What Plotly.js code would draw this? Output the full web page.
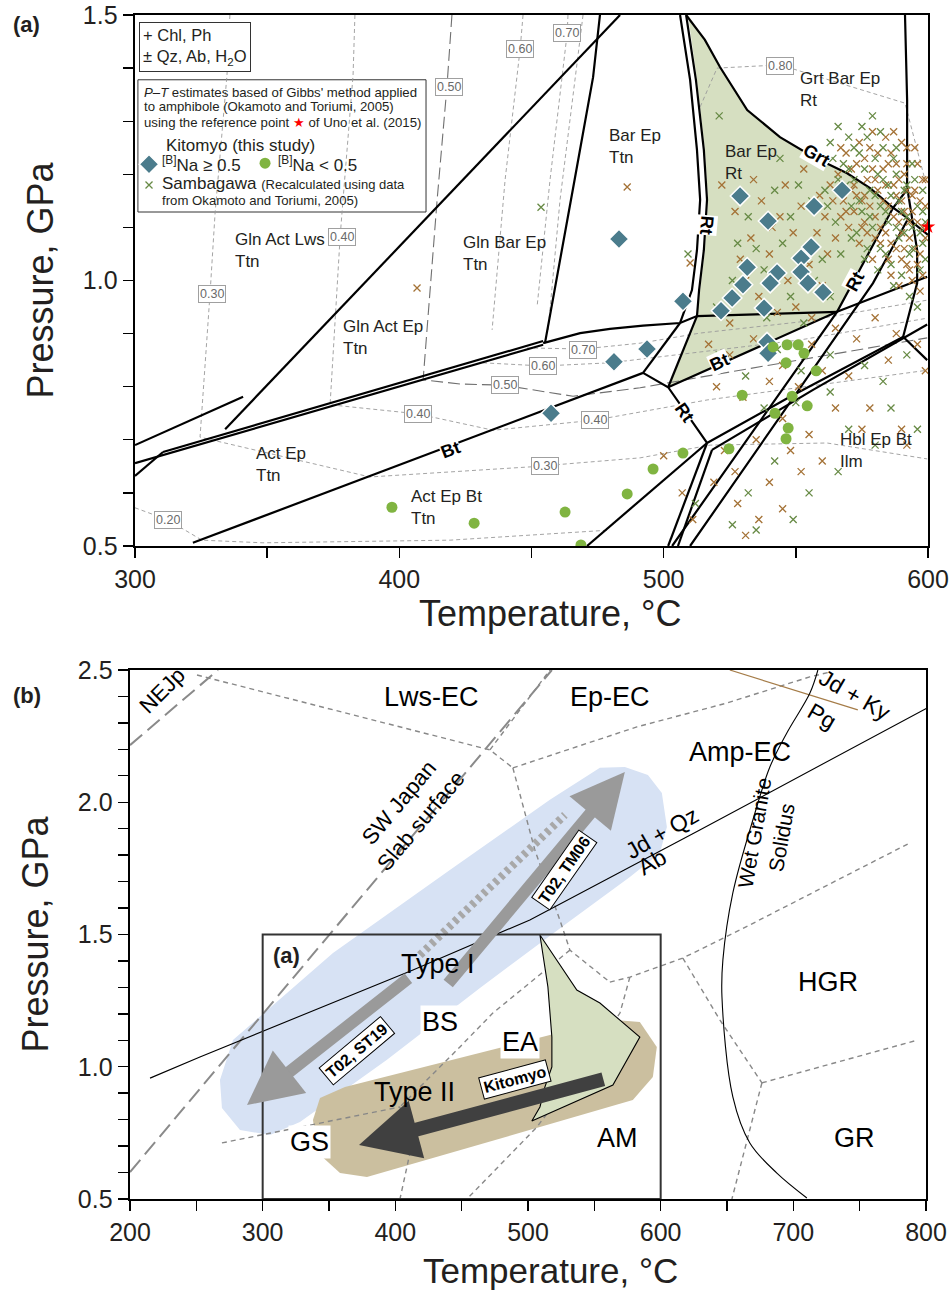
<!DOCTYPE html>
<html><head><meta charset="utf-8">
<script src="https://cdn.plot.ly/plotly-3.0.1.min.js"></script>
<style>html,body{margin:0;padding:0;background:#fff}</style>
</head><body><div id="chart" style="width:949px;height:1294px"></div>
<script>
// ================= PANEL (a) DATA (T in °C, P in GPa) =================
const aXTicks = [300,350,400,450,500,550,600];
const aXLabels = ['300','','400','','500','','600'];
const aYTicks = [0.5,0.6,0.7,0.8,0.9,1.0,1.1,1.2,1.3,1.4,1.5];
const aYLabels = ['0.5','','','','','1.0','','','','','1.5'];

// Bar Ep Rt field (green)
const fieldT = [509.2,515.6,521.3,531.6,544.0,556.5,569.4,578.1,586.8,565.6,501.7,512.6,513.8,515.6,516.8,515.6,512.6,509.2];
const fieldP = [1.5,1.453,1.402,1.321,1.270,1.233,1.202,1.174,1.137,0.941,0.799,0.933,0.982,1.057,1.152,1.246,1.378,1.5];

// reaction boundaries (thick)
const grtT = [508.5,515.6,521.3,531.6,544.0,556.5,569.4,578.1,586.8,592.1,600];
const grtP = [1.5,1.453,1.402,1.321,1.270,1.233,1.202,1.174,1.137,1.118,1.086];
const rtOuterT = [508.5,512.2,515.2,516.4,515.2,513.4,512.6];
const rtOuterP = [1.5,1.378,1.246,1.152,1.057,0.982,0.933];
const rtInnerT = [506.2,510.0,512.6,513.8,512.6,510.7,506.2];
const rtInnerP = [1.5,1.378,1.246,1.152,1.057,0.982,0.920];
const l1T = [300,340.9], l1P = [0.690,0.781];
const l2T = [334.1,483.5], l2P = [0.720,1.5];
const c1T = [300,454.4], c1P = [0.656,0.879];
const c2T = [310.6,454.4], c2P = [0.677,0.886];
const dT = [300,310.6], dP = [0.632,0.677];
const lbT = [475.9,473.3,466.5,460.8,455.1], lbP = [1.5,1.383,1.195,1.039,0.882];
const ccT = [454.4,468.4,479.7,492.2,506.2,512.6,565.6], ccP = [0.882,0.901,0.909,0.915,0.920,0.933,0.941];
const s1T = [492.2,506.2], s1P = [0.826,0.920];
const s2T = [501.7,512.6], s2P = [0.799,0.933];
const bt1T = [321.9,492.2], bt1P = [0.506,0.826];
const rtLowT = [492.2,501.7,516.4], rtLowP = [0.826,0.799,0.694];
const bt2T = [501.7,565.6,599.7], bt2P = [0.799,0.941,1.007];
const f1T = [471.0,516.4], f1P = [0.5,0.694];
const f2T = [501.7,516.4], f2P = [0.5,0.694];
const f3T = [505.4,518.3], f3P = [0.5,0.681];
const f4T = [503.2,565.6,586.8,592.1], f4P = [0.5,0.941,1.137,1.171];
const f5T = [510.0,579.2,592.1], f5P = [0.5,0.995,1.113];
const f6T = [518.3,556.5,599.7], f6P = [0.681,0.794,0.917];
const f7T = [516.4,547.8,590.6,599.7], f7P = [0.694,0.781,0.894,0.850];
const r1T = [591.3,592.1,592.1,595.9,595.9,590.6], r1P = [1.5,1.340,1.176,1.057,0.995,0.894];

// Na isopleths (thin dashed)
const iso20T = [300,312.5,325.3,348.4,419.2,479.7], iso20P = [0.572,0.549,0.511,0.506,0.511,0.530];
const iso30T = [335.9,334.8,330.3,328.4,324.6,388.9,449.5,491.1,517.6,561.8,599.7];
const iso30P = [1.5,1.387,1.127,0.976,0.705,0.630,0.649,0.666,0.690,0.694,0.664];
const iso40T = [383.2,382.5,378.3,377.6,373.8,406.7,435.5,474.0,516.4,599.7];
const iso40P = [1.5,1.387,1.127,1.082,0.766,0.749,0.718,0.737,0.775,0.831];
const iso50T = [419.9,418.0,414.3,409.0,423.0,439.2,465.7,491.1,528.9,599.7];
const iso50P = [1.5,1.364,1.152,0.813,0.805,0.803,0.782,0.798,0.831,0.892];
const iso60aT = [446.8,445.7,440.0,435.1], iso60aP = [1.5,1.436,1.189,0.907];
const iso60bT = [431.7,454.4,479.7,513.8,551.6,599.7], iso60bP = [0.845,0.839,0.845,0.865,0.888,0.929];
const iso70aT = [463.8,463.5,457.0,452.1], iso70aP = [1.5,1.466,1.189,0.950];
const iso70bT = [448.3,469.5,491.1,513.8,551.6,599.7], iso70bP = [0.873,0.871,0.882,0.901,0.922,0.963];
const isoXT = [469.5,460.8,456.3], isoXP = [1.5,1.152,0.907];
const iso80T = [513.8,520.2,544.0,591.3,598.9], iso80P = [1.327,1.400,1.406,1.334,1.189];

// Kitomyo, [B]Na >= 0.5 (diamonds)
const kitoHiT = [483.1,507.3,493.7,481.2,457.4,528.9,539.5,556.9,567.5,555.8,552.0,531.6,542.9,552.0,554.6,560.3,530.0,540.3,525.9,521.7,538.0,539.1,539.5];
const kitoHiP = [1.078,0.961,0.871,0.847,0.750,1.159,1.112,1.140,1.170,1.063,1.042,1.025,1.014,1.016,0.995,0.978,0.992,0.995,0.967,0.943,0.948,0.884,0.863];
// Kitomyo, [B]Na < 0.5 (circles)
const kitoLoT = [397.2,428.3,462.7,468.7,486.2,496.0,507.3,524.7,529.7,542.1,547.1,546.3,548.6,554.3,557.7,546.3,553.1,546.7,550.9,541.4];
const kitoLoP = [0.573,0.543,0.564,0.502,0.598,0.645,0.675,0.683,0.784,0.750,0.722,0.702,0.782,0.764,0.830,0.845,0.863,0.879,0.879,0.875];
// Sambagawa (brown crosses)
const sambBrT = [566,569,571,573,575,577,578,580,581,583,584,585,586,587,588,589,590,591,592,593,594,595,596,597,598,599,570,572,574,576,579,582,586,589,591,594,597,579,584,590,595,599,588,592,580,576,568,563,561,565,
 567,569,571,573,574,576,577,578,579,581,582,583,584,585,586,587,588,589,590,591,592,593,594,595,596,597,598,599,593,596,598,590,585,580,575,572,567,564,587,592,
 522,527,533,537,540,544,547,549,552,555,558,560,562,531,536,543,550,556,525,529,515,546,553,559,541,534,
 517,525,534,545,556,565,573,580,588,596,520,530,540,551,560,570,585,599,545,555,565,578,590,535,548,560,575,592,527,540,552,528,536,545,531,519,507,511,523,500,
 406.7,486.2,510.0];
const sambBrP = [1.20,1.24,1.17,1.22,1.15,1.19,1.25,1.12,1.17,1.21,1.09,1.14,1.24,1.18,1.06,1.11,1.15,1.20,1.03,1.08,1.13,1.17,1.22,1.05,1.10,1.14,1.10,1.13,1.07,1.11,1.04,1.07,1.01,0.99,1.06,1.00,0.98,1.28,1.27,1.26,1.25,1.19,1.22,1.17,1.19,1.16,1.15,1.18,1.12,1.08,
 1.25,1.13,1.21,1.16,1.26,1.23,1.09,1.14,1.21,1.24,1.10,1.15,1.18,1.22,1.07,1.12,1.16,1.19,1.09,1.13,1.22,1.11,1.16,1.06,1.11,1.15,1.19,1.08,1.02,1.03,1.01,1.04,1.04,1.08,1.10,1.18,1.12,1.15,1.28,1.25,
 1.18,1.13,1.08,1.15,1.05,1.12,1.00,1.09,1.14,1.03,1.09,0.99,1.05,1.00,0.97,0.94,0.95,0.93,0.92,1.04,1.10,1.18,1.21,1.16,1.10,1.19,
 0.88,0.86,0.89,0.84,0.88,0.91,0.89,0.93,0.90,0.88,0.80,0.78,0.81,0.80,0.83,0.82,0.85,0.83,0.74,0.71,0.76,0.76,0.72,0.70,0.68,0.66,0.72,0.69,0.64,0.62,0.64,0.58,0.55,0.57,0.52,0.62,0.60,0.55,0.68,0.67,
 0.986,1.176,1.033];
// Sambagawa (green crosses)
const sambGrT = [563,566,568,570,572,574,576,578,580,582,583,585,586,588,589,590,592,593,594,596,597,598,599,571,573,575,577,579,581,584,587,590,593,596,562,565,567,569,575,582,588,594,598,560,
 564,567,570,572,574,577,578,580,581,583,584,585,587,588,589,591,591,592,594,595,597,598,599,586,582,576,571,566,561,579,
 528,532,538,542,545,548,551,554,557,560,563,535,539,548,553,520,526,544,556,
 521,531,543,552,563,576,583,592,538,550,563,580,596,542,555,566,532,526,549,535,512,570,586,
 453.6,509.2,521.0];
const sambGrP = [1.26,1.29,1.22,1.27,1.19,1.24,1.21,1.17,1.23,1.14,1.19,1.11,1.16,1.20,1.08,1.13,1.18,1.05,1.10,1.14,1.02,1.07,1.11,1.14,1.09,1.13,1.06,1.10,1.02,1.05,0.99,1.01,0.97,0.95,1.14,1.11,1.05,1.18,1.29,1.28,1.25,1.22,1.17,1.22,
 1.23,1.17,1.21,1.25,1.15,1.27,1.12,1.16,1.20,1.25,1.13,1.18,1.23,1.10,1.15,1.17,1.09,1.12,1.06,1.19,1.09,1.13,1.04,1.03,1.06,1.04,1.08,1.19,1.17,1.31,
 1.07,1.12,1.02,1.17,1.07,1.12,1.18,1.06,1.00,1.04,0.97,1.06,0.93,0.97,0.92,0.95,1.00,1.23,1.15,
 0.86,0.82,0.87,0.83,0.86,0.84,0.81,0.86,0.76,0.77,0.79,0.69,0.72,0.66,0.60,0.64,0.60,0.54,0.55,0.53,0.58,0.72,0.76,
 1.138,1.050,1.310];
// reference point (Uno et al., 2015)
const refT = [600], refP = [1.101];
// legend symbols
const legDiaT = [305.3], legDiaP = [1.219];
const legCirT = [349.2], legCirP = [1.221];
const legCrsT = [305.3], legCrsP = [1.180];

// ================= PANEL (b) DATA =================
const bXTicks = [200,250,300,350,400,450,500,550,600,650,700,750,800];
const bXLabels = ['200','','300','','400','','500','','600','','700','','800'];
const bYTicks = [0.5,0.6,0.7,0.8,0.9,1.0,1.1,1.2,1.3,1.4,1.5,1.6,1.7,1.8,1.9,2.0,2.1,2.2,2.3,2.4,2.5];
const bYLabels = ['0.5','','','','','1.0','','','','','1.5','','','','','2.0','','','','','2.5'];

const typeIBandT = [277.6,353.0,441.1,516.5,554.2,573.0,590.4,600.9,604.7,599.4,576.8,529.3,463.8,393.7,328.1,305.5,282.9,269.3,267.8,277.6];
const typeIBandP = [1.101,1.430,1.744,2.009,2.130,2.133,2.103,2.035,1.906,1.808,1.717,1.543,1.298,1.026,0.791,0.742,0.761,0.844,0.950,1.101];
const typeIIBandT = [337.9,343.2,362.0,516.5,565.5,584.3,597.1,594.1,579.0,378.6,358.3,341.7,337.9];
const typeIIBandP = [0.799,0.882,0.923,1.120,1.177,1.169,1.075,0.961,0.874,0.583,0.598,0.674,0.799];
const kitoFieldT = [509.0,536.8,554.2,584.3,564.0,502.9,509.0,512.7,518.0,518.0,515.0,509.0];
const kitoFieldP = [1.498,1.290,1.241,1.112,0.931,0.795,0.848,0.923,0.999,1.112,1.302,1.498];

const nejpT = [200,266.3], nejpP = [2.216,2.5];
const slabT = [200,518], slabP = [0.602,2.5];
const jdKyT = [652.1,748.6], jdKyP = [2.5,2.349];
const jdQzT = [215.1,252.7,413.3,501.4,629.5,800.6], jdQzP = [0.957,1.037,1.366,1.555,1.895,2.356];
const solidusT = [718.5,712.5,695.1,682.3,669.5,654.4,646.9,646.2,654.4,667.2,687.6,710.2];
const solidusP = [2.5,2.413,2.262,2.133,1.933,1.657,1.404,1.264,0.886,0.712,0.598,0.504];
const fA_T = [250.5,471.3,488.6], fA_P = [2.481,2.198,2.130];
const fB_T = [488.6,582.1,649.9,712.4,727.5], fB_P = [2.130,2.285,2.375,2.474,2.492];
const fC_T = [471.3,516.5], fC_P = [2.198,2.5];
const fD_T = [488.6,505.2,524.0,531.6,561.7], fD_P = [2.130,1.819,1.555,1.441,1.320];
const fE_T = [561.7,576.8,616.7,659.7,787.8], fE_P = [1.320,1.339,1.411,1.517,1.846];
const fF_T = [616.7,644.6,676.3], fF_P = [1.411,1.177,0.939];
const fG_T = [676.3,653.7], fG_P = [0.939,0.5];
const fH_T = [676.3,793.8], fH_P = [0.939,1.101];
const fJ_T = [531.6,473.5,448.7,403.5], fJ_P = [1.441,1.203,1.075,0.848];
const fK_T = [269.3,403.5], fK_P = [0.712,0.848];
const fL_T = [403.5,411.0,403.5], fL_P = [0.848,0.674,0.5];
const fM_T = [576.8,569.3,539.1,506.7,454.0], fM_P = [1.339,1.203,0.988,0.772,0.5];
// P-T paths: [tailT, tailP, headT, headP]
const pathTypeIUp = [438.9,1.309,573.0,2.114];
const pathTypeIDown = [411.0,1.339,288.2,0.855];
const pathKitomyo = [557.9,0.954,372.6,0.704];
const pathDottedT = [418.5,527.8], pathDottedP = [1.422,1.952];
const insetBox = [300,600,0.5,1.5];

// ================= BUILD =================
const FONT = 'Liberation Sans, Arial, Helvetica, sans-serif';
const traces = [];
function line(xs, ys, ax, style){
  traces.push(Object.assign({type:'scatter', mode:'lines', x:xs, y:ys, xaxis:ax[0], yaxis:ax[1], hoverinfo:'skip', showlegend:false}, style));
}
const A = ['x','y'], B = ['x2','y2'];
const thick = {line:{color:'#000', width:2.2}};
const iso = {line:{color:'#9a9a9a', width:0.9, dash:'4px,3px'}};

// panel a
line(fieldT, fieldP, A, {fill:'toself', fillcolor:'#d6dfc1', line:{width:0}});
[[iso20T,iso20P],[iso30T,iso30P],[iso40T,iso40P],[iso60aT,iso60aP],[iso60bT,iso60bP],[iso70aT,iso70aP],[iso70bT,iso70bP],[isoXT,isoXP],[iso80T,iso80P]]
  .forEach(d => line(d[0], d[1], A, iso));
line(iso50T, iso50P, A, {line:{color:'#707070', width:1.1, dash:'12px,5px'}});
[[grtT,grtP],[rtOuterT,rtOuterP],[rtInnerT,rtInnerP],[l1T,l1P],[l2T,l2P],[c1T,c1P],[c2T,c2P],[dT,dP],[lbT,lbP],[ccT,ccP],[s1T,s1P],[s2T,s2P],[bt1T,bt1P],[rtLowT,rtLowP],[bt2T,bt2P],[f1T,f1P],[f2T,f2P],[f3T,f3P],[f4T,f4P],[f5T,f5P],[f6T,f6P],[f7T,f7P],[r1T,r1P]]
  .forEach(d => line(d[0], d[1], A, thick));
function pts(xs, ys, ax, marker, clip){
  traces.push({type:'scatter', mode:'markers', x:xs, y:ys, xaxis:ax[0], yaxis:ax[1], marker:marker, hoverinfo:'skip', showlegend:false, cliponaxis: clip!==false});
}
const brownX = {symbol:'x-thin', size:7, color:'#a47236', line:{width:1.3, color:'#a47236'}};
const greenX = {symbol:'x-thin', size:7, color:'#678a45', line:{width:1.3, color:'#678a45'}};
const dia = {symbol:'diamond', size:15, color:'#4b7c8c', line:{width:1.5, color:'#fff'}};
const cir = {symbol:'circle', size:11, color:'#80b441', line:{width:0}};
pts(sambBrT, sambBrP, A, brownX);
pts(sambGrT, sambGrP, A, greenX);
pts(kitoHiT, kitoHiP, A, dia);
pts(kitoLoT, kitoLoP, A, cir);
pts(refT, refP, A, {symbol:'star', size:11, color:'#ff0000'}, false);

// panel b
line(typeIBandT, typeIBandP, B, {fill:'toself', fillcolor:'#d7e2f4', line:{width:0}});
line(typeIIBandT, typeIIBandP, B, {fill:'toself', fillcolor:'#cbbf9f', line:{width:0}});
const fac = {line:{color:'#888', width:1.4, dash:'5px,4px'}};
[[fA_T,fA_P],[fB_T,fB_P],[fC_T,fC_P],[fD_T,fD_P],[fE_T,fE_P],[fF_T,fF_P],[fG_T,fG_P],[fH_T,fH_P],[fJ_T,fJ_P],[fK_T,fK_P],[fL_T,fL_P],[fM_T,fM_P]]
  .forEach(d => line(d[0], d[1], B, fac));
const slabStyle = {line:{color:'#8a8a8a', width:2, dash:'16px,7px'}};
line(nejpT, nejpP, B, slabStyle);
line(slabT, slabP, B, slabStyle);
line(jdKyT, jdKyP, B, {line:{color:'#a57c48', width:1.2}});
line(jdQzT, jdQzP, B, {line:{color:'#000', width:1.1}});
line(solidusT, solidusP, B, {line:{color:'#000', width:1.1, shape:'spline'}});
line(kitoFieldT, kitoFieldP, B, {fill:'toself', fillcolor:'#d6dfc1', line:{color:'#000', width:1.1}});
line(pathDottedT, pathDottedP, B, {line:{color:'#a8a8a8', width:8, dash:'4px,4px'}});
pts(legDiaT, legDiaP, A, dia, false);
pts(legCirT, legCirP, A, cir, false);
pts(legCrsT, legCrsP, A, greenX, false);

// ---------- annotations ----------
const ann = [];
// arrows (P-T paths) first so that labels sit on top
function arrow(p, color, w, size){
  ann.push({xref:'x2', yref:'y2', axref:'x2', ayref:'y2', x:p[2], y:p[3], ax:p[0], ay:p[1], text:'', showarrow:true,
    arrowhead:2, arrowsize:size, arrowwidth:w, arrowcolor:color, standoff:0, startstandoff:0});
}
arrow(pathTypeIUp, '#9a9a9a', 12, 0.9);
arrow(pathTypeIDown, '#9a9a9a', 12, 0.9);
arrow(pathKitomyo, '#404040', 14, 0.85);

function T(ax, x, y, text, o){
  ann.push(Object.assign({xref:ax[0], yref:ax[1], x:x, y:y, text:text, showarrow:false,
    font:{family:FONT, size:17, color:'#231f20'}}, o||{}));
}
// region labels (a)
const reg = {xanchor:'left', align:'left'};
T(A,337.1,1.057,'Gln Act Lws<br>Ttn',reg);
T(A,377.9,0.892,'Gln Act Ep<br>Ttn',reg);
T(A,423.3,1.050,'Gln Bar Ep<br>Ttn',reg);
T(A,478.6,1.253,'Bar Ep<br>Ttn',reg);
T(A,522.5,1.223,'Bar Ep<br>Rt',reg);
T(A,550.9,1.359,'Grt Bar Ep<br>Rt',reg);
T(A,345.0,0.654,'Act Ep<br>Ttn',reg);
T(A,403.7,0.572,'Act Ep Bt<br>Ttn',reg);
T(A,566.0,0.679,'Hbl Ep Bt<br>Ilm',reg);
// boundary labels
const bl = (x,y,t,ang) => T(A,x,y,'<b>'+t+'</b>',{textangle:ang, bgcolor:'#fff', borderpad:0, font:{family:FONT,size:18,color:'#000'}});
bl(419.2,0.681,'Bt',-21);
bl(521.3,0.847,'Bt',-25);
bl(516.4,1.105,'Rt',95);
bl(507.7,0.752,'Rt',55);
bl(572.4,0.997,'Rt',-62);
bl(557.7,1.236,'Grt',30);
// isopleth labels
const il = (x,y,t) => T(A,x,y,t,{font:{family:FONT,size:12.5,color:'#6a6a6a'}, bgcolor:'#fff', bordercolor:'#a0a0a0', borderwidth:1, borderpad:1});
il(329.1,0.975,'0.30'); il(378.3,1.082,'0.40'); il(418.8,1.364,'0.50'); il(445.7,1.436,'0.60');
il(463.5,1.466,'0.70'); il(544.0,1.404,'0.80'); il(469.5,0.869,'0.70'); il(454.4,0.839,'0.60');
il(440.0,0.803,'0.50'); il(407.1,0.749,'0.40'); il(474.0,0.737,'0.40'); il(455.1,0.651,'0.30'); il(312.5,0.549,'0.20');
// legend boxes
T(A,301.4,1.487,'+ Chl, Ph<br>± Qz, Ab, H<sub>2</sub>O',{xanchor:'left', yanchor:'top', align:'left', bgcolor:'#fff', bordercolor:'#333', borderwidth:1, borderpad:3, font:{family:FONT,size:16.5,color:'#231f20'}});
const lg = (x,y,t,s) => T(A,x,y,t,{xanchor:'left', align:'left', font:{family:FONT,size:s,color:'#231f20'}});
lg(302.5,1.355,'<i>P–T</i> estimates based of Gibbs\' method applied',13.2);
lg(302.5,1.327,'to amphibole (Okamoto and Toriumi, 2005)',13.2);
lg(302.5,1.297,'using the reference point <span style="color:#ff0000">★</span> of Uno et al. (2015)',13.2);
lg(311.0,1.255,'Kitomyo (this study)',17);
lg(309.5,1.219,'<sup>[B]</sup>Na ≥ 0.5',17);
lg(353.5,1.219,'<sup>[B]</sup>Na &lt; 0.5',17);
lg(309.5,1.182,'Sambagawa <span style="font-size:13px">(Recalculated using data</span>',17);
lg(309.5,1.150,'from Okamoto and Toriumi, 2005)',13.2);

// panel b labels
const bt = (x,y,t,o) => T(B,x,y,t,Object.assign({font:{family:FONT,size:27,color:'#000'}},o||{}));
const f = s => ({family:FONT,size:s,color:'#000'});
bt(224.1,2.424,'NEJp',{textangle:-45,font:f(22)});
bt(411.0,1.963,'SW Japan<br>Slab surface',{textangle:-50,font:f(22)});
bt(427.6,2.398,'Lws-EC');
bt(561.7,2.398,'Ep-EC');
bt(659.7,2.190,'Amp-EC');
bt(746.3,2.405,'Jd + Ky',{textangle:30,font:f(23)});
bt(721.5,2.326,'Pg',{textangle:30,font:f(23)});
bt(600.9,1.884,'Jd + Qz',{textangle:-30,font:f(23)});
bt(593.4,1.774,'Ab',{textangle:-30,font:f(23)});
bt(680.8,1.876,'Wet Granite<br>Solidus',{textangle:-80,font:f(21)});
bt(726.0,1.320,'HGR');
bt(746.3,0.731,'GR');
const wb = {bgcolor:'#fff', borderpad:1};
bt(433.6,1.169,'BS',wb);
bt(493.9,1.094,'EA',wb);
bt(567.7,0.731,'AM');
bt(335.6,0.716,'GS',wb);
bt(432.1,1.388,'Type I');
bt(414.8,0.905,'Type II');
bt(318.3,1.422,'<b>(a)</b>',{font:{family:FONT,size:22,color:'#231f20'}});
const box = {bgcolor:'#fff', bordercolor:'#000', borderwidth:1, borderpad:2, font:{family:FONT,size:16,color:'#000'}};
bt(527.8,1.744,'<b>T02, TM06</b>',Object.assign({textangle:-55},box));
bt(371.1,1.063,'<b>T02, ST19</b>',Object.assign({textangle:-40},box));
bt(490.1,0.950,'<b>Kitomyo</b>',Object.assign({textangle:-15},box));
// panel tags and x-axis titles
const paperT = (x,y,t,s,xa) => ann.push({xref:'paper', yref:'paper', x:x, y:y, xanchor:xa, yanchor:'middle', text:t, showarrow:false, font:{family:FONT,size:s,color:'#231f20'}});
paperT(11/949, 1-25/1294, '<b>(a)</b>', 22, 'left');
paperT(11/949, 1-695/1294, '<b>(b)</b>', 22, 'left');
paperT(550/949, 1-613/1294, 'Temperature, °C', 36, 'center');
paperT(550/949, 1-1270/1294, 'Temperature, °C', 35, 'center');

const shapes = [
  {type:'rect', xref:'x', yref:'y', x0:301.1, x1:410.1, y0:1.129, y1:1.378, line:{color:'#333', width:1}, fillcolor:'#fff', layer:'below'},
  {type:'rect', xref:'x2', yref:'y2', x0:insetBox[0], x1:insetBox[1], y0:insetBox[2], y1:insetBox[3], line:{color:'#333', width:2}}
];

function axis(o){
  return Object.assign({showgrid:false, zeroline:false, showline:true, mirror:true, linecolor:'#000', linewidth:2.4,
    ticks:'outside', ticklen:10, tickwidth:1.4, tickcolor:'#000', tickmode:'array', automargin:false,
    tickfont:{family:FONT, size:25, color:'#231f20'}}, o);
}
const ttl = (t, s) => ({text:t, font:{family:FONT, size:36, color:'#231f20'}, standoff:s});
const layout = {
  width:949, height:1294, margin:{l:0,r:0,t:0,b:0}, paper_bgcolor:'#fff', plot_bgcolor:'rgba(0,0,0,0)', showlegend:false,
  xaxis: axis({domain:[135/949, 928/949], range:[300,600], tickvals:aXTicks, ticktext:aXLabels, anchor:'y'}),
  yaxis: axis({domain:[(1294-546)/1294, (1294-15)/1294], range:[0.5,1.5], tickvals:aYTicks, ticktext:aYLabels, anchor:'x', title:ttl('Pressure, GPa',18)}),
  xaxis2: axis({domain:[130/949, 926/949], range:[200,800], tickvals:bXTicks, ticktext:bXLabels, anchor:'y2'}),
  yaxis2: axis({domain:[(1294-1199)/1294, (1294-670)/1294], range:[0.5,2.5], tickvals:bYTicks, ticktext:bYLabels, anchor:'x2', title:ttl('Pressure, GPa',18)}),
  annotations: ann, shapes: shapes
};
Plotly.newPlot('chart', traces, layout, {displayModeBar:false, staticPlot:true});
</script></body></html>
